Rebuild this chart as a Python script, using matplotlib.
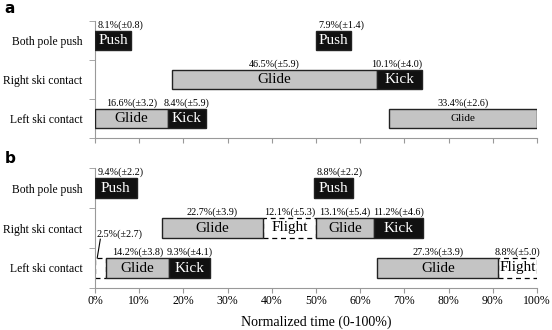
import matplotlib.pyplot as plt
from matplotlib.ticker import FixedLocator

plt.rcParams['font.family'] = ['Liberation Serif', 'DejaVu Serif']

rows = ['Left ski contact', 'Right ski contact', 'Both pole push']

# panel a: row index, phase, onset (%), duration (%), SD
a_row = [2, 2, 1, 1, 0, 0, 0]
a_phase = ['Push', 'Push', 'Glide', 'Kick', 'Glide', 'Kick', 'Glide']
a_start = [0, 50.0, 17.4, 63.9, 0, 16.6, 66.6]
a_dur = [8.1, 7.9, 46.5, 10.1, 16.6, 8.4, 33.4]
a_sd = [0.8, 1.4, 5.9, 4.0, 3.2, 5.9, 2.6]

# panel b
b_row = [2, 2, 1, 1, 1, 1, 0, 0, 0, 0, 0]
b_phase = ['Push', 'Push', 'Glide', 'Flight', 'Glide', 'Kick',
           'Flight', 'Glide', 'Kick', 'Glide', 'Flight']
b_start = [0, 49.6, 15.2, 37.9, 50.0, 63.1, 0, 2.5, 16.7, 63.9, 91.2]
b_dur = [9.4, 8.8, 22.7, 12.1, 13.1, 11.2, 2.5, 14.2, 9.3, 27.3, 8.8]
b_sd = [2.2, 2.2, 3.9, 5.3, 5.4, 4.6, 2.7, 3.8, 4.1, 3.9, 5.0]

xticks = list(range(0, 101, 10))

H = 0.5
ANN = 7.3
colors = {'Push': '#111111', 'Kick': '#111111', 'Glide': '#c4c4c4', 'Flight': 'white'}
txtcol = {'Push': 'white', 'Kick': 'white', 'Glide': 'black', 'Flight': 'black'}


def draw(ax, row, phase, start, dur, sd, ann_ha, lab_size, skip_label):
    for i in range(len(row)):
        p = phase[i]
        if p == 'Flight':
            ax.barh(row[i], dur[i], left=start[i], height=H, color='white',
                    edgecolor='black', linestyle=(0, (4, 3)), lw=0.9, zorder=2)
        else:
            ax.barh(row[i], dur[i], left=start[i], height=H, color=colors[p],
                    edgecolor='#222222', lw=1.0, zorder=3)
        if i not in skip_label:
            ax.text(start[i] + dur[i] / 2, row[i], p, color=txtcol[p],
                    ha='center', va='center', fontsize=lab_size.get(i, 11), zorder=4)
        ha = ann_ha.get(i, 'center')
        if ha is None:
            continue
        x = {'left': start[i] + 0.5, 'right': start[i] + dur[i],
             'center': start[i] + dur[i] / 2}[ha]
        ax.text(x, row[i] + H / 2 + 0.03, f'{dur[i]}%(\u00b1{sd[i]})',
                ha=ha, va='bottom', fontsize=ANN, zorder=4)


def style(ax):
    ax.set_xlim(0, 100)
    ax.set_ylim(-0.5, 2.5)
    ax.set_yticks([0, 1, 2])
    ax.set_yticklabels(rows, fontsize=8.4)
    ax.yaxis.set_minor_locator(FixedLocator([-0.5, 0.5, 1.5, 2.5]))
    ax.tick_params(axis='y', which='major', length=0, pad=9)
    ax.tick_params(axis='y', which='minor', length=4, color='#999999')
    ax.xaxis.set_major_locator(FixedLocator(xticks))
    ax.tick_params(axis='x', length=3.5, color='#999999', pad=1.5)
    for s in ['top', 'right']:
        ax.spines[s].set_visible(False)
    for s in ['left', 'bottom']:
        ax.spines[s].set_color('#999999')
        ax.spines[s].set_linewidth(0.8)


fig = plt.figure(figsize=(5.52, 3.30), dpi=100)
ax_a = fig.add_axes([95 / 552, 1 - 138 / 330, 442 / 552, 117 / 330])
ax_b = fig.add_axes([95 / 552, 1 - 288 / 330, 442 / 552, 120 / 330])

draw(ax_a, a_row, a_phase, a_start, a_dur, a_sd,
     {0: 'left', 1: 'left', 3: 'right'}, {6: 8}, [])
style(ax_a)
ax_a.set_xticklabels([])

draw(ax_b, b_row, b_phase, b_start, b_dur, b_sd,
     {0: 'left', 1: 'left', 6: None}, {}, [6])
style(ax_b)
ax_b.set_xticklabels([f'{t}%' for t in xticks], fontsize=8.5)
ax_b.set_xlabel('Normalized time (0-100%)', fontsize=10, labelpad=6)

# annotation for the short left-ski flight
ax_b.text(0.3, 0.85, f'{b_dur[6]}%(\u00b1{b_sd[6]})', ha='left', va='center', fontsize=ANN)
ax_b.plot([0.5, 1.2], [0.25, 0.72], color='black', lw=0.8, clip_on=False)

fig.text(0.008, 0.975, 'a', fontsize=11, fontweight='bold', family='DejaVu Sans', va='center')
fig.text(0.008, 0.52, 'b', fontsize=11, fontweight='bold', family='DejaVu Sans', va='center')

fig.savefig('out.png', dpi=100)
